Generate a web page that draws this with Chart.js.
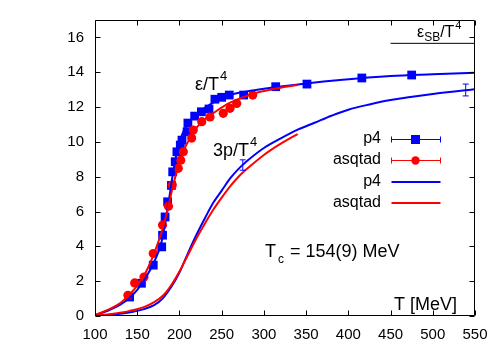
<!DOCTYPE html>
<html>
<head>
<meta charset="utf-8">
<script src="https://cdn.jsdelivr.net/npm/chart.js@4.4.1/dist/chart.umd.min.js"></script>
<style>
html,body{margin:0;padding:0;background:#fff;}
#wrap{width:500px;height:350px;}
</style>
</head>
<body>
<div id="wrap"><canvas id="c" width="500" height="350"></canvas></div>
<script>
// ---- data ----
const xTicks = [100,150,200,250,300,350,400,450,500,550];
const yTicks = [0,2,4,6,8,10,12,14,16];

// p4 data points (epsilon/T^4)
const p4PtsT = [141,155,169,179,180,183,186,190.5,192,195,197,201,203,209,210,218,226,235,242,250,259,276,314,351,416,475];
const p4PtsE = [1.09,1.88,2.92,3.97,4.64,5.69,6.56,7.5,8.28,8.86,9.43,9.82,10.1,10.58,11.08,11.48,11.73,11.89,12.45,12.56,12.69,12.69,13.17,13.32,13.67,13.84];

// asqtad data points (epsilon/T^4)
const asqPtsT = [139,147,158,169,180,187,191.5,198.6,201.5,204.6,214.5,216.4,226.4,236.2,251.9,259.9,267.8,286.8];
const asqPtsE = [1.19,1.9,2.24,3.59,5.22,6.31,7.52,8.48,8.95,9.43,10.22,10.68,11.16,11.43,11.64,11.93,12.21,12.69];

// p4 curves
const p4CurveET = [100,115,130,140,150,160,170,178,183,188,193,198,203,210,220,230,245,260,280,300,350,390,450,500,550];
const p4CurveE  = [0.05,0.3,0.65,1.0,1.5,2.2,3.1,4.1,5.3,6.8,8.4,9.6,10.4,11.05,11.6,11.95,12.4,12.7,12.9,13.05,13.35,13.55,13.78,13.88,13.97];
const p4CurvePT = [100,120,140,157,170,180,190,200,210,220,230,240,250,260,270,280,300,320,340,360,380,400,425,450,500,550];
const p4CurveP  = [0.0,0.08,0.2,0.38,0.62,1.0,1.65,2.5,3.6,4.65,5.6,6.5,7.2,7.9,8.45,8.9,9.65,10.2,10.7,11.1,11.5,11.85,12.15,12.4,12.75,13.02];

// asqtad curves
const asqCurveET = [100,115,130,140,150,160,170,180,186,192,198,204,210,220,230,240,260,290,310,340];
const asqCurveE  = [0.05,0.35,0.75,1.2,1.75,2.5,3.6,5.0,6.1,7.4,8.5,9.4,10.0,10.8,11.3,11.65,12.25,12.8,13.02,13.27];
const asqCurvePT = [100,120,140,160,180,190,200,210,220,230,240,250,260,270,280,300,320,340];
const asqCurveP  = [0.02,0.12,0.28,0.55,1.15,1.75,2.55,3.5,4.45,5.3,6.1,6.8,7.45,8.0,8.45,9.25,9.9,10.45];

// systematic error bars on 3p/T^4 (p4)
const errT   = [275, 539];
const errVal = [8.67, 12.98];
const errPM  = [0.3, 0.34];

// Stefan-Boltzmann limit
const sbT = [450, 550];
const sbVal = 15.66;

const BLUE = '#0000ff', RED = '#ff0000';
const FONT = '"Liberation Sans", Arial, Helvetica, sans-serif';

function pts(xs, ys){ return xs.map((v,i)=>({x:v, y:ys[i]})); }

const datasets = [
  {label:'p4 pts', data:pts(p4PtsT,p4PtsE), showLine:false, pointStyle:'rect', pointRadius:6.2,
   backgroundColor:BLUE, borderColor:BLUE, pointBorderWidth:0, order:4},
  {label:'asqtad pts', data:pts(asqPtsT,asqPtsE), showLine:false, pointStyle:'circle', pointRadius:4.6,
   backgroundColor:RED, borderColor:RED, pointBorderWidth:0, order:3},
  {label:'p4 e', data:pts(p4CurveET,p4CurveE), borderColor:BLUE, borderWidth:2, pointRadius:0, cubicInterpolationMode:'monotone', order:2},
  {label:'p4 p', data:pts(p4CurvePT,p4CurveP), borderColor:BLUE, borderWidth:2, pointRadius:0, cubicInterpolationMode:'monotone', order:2},
  {label:'asq e', data:pts(asqCurveET,asqCurveE), borderColor:RED, borderWidth:2, pointRadius:0, cubicInterpolationMode:'monotone', order:1},
  {label:'asq p', data:pts(asqCurvePT,asqCurveP), borderColor:RED, borderWidth:2, pointRadius:0, cubicInterpolationMode:'monotone', order:1},
  {label:'SB', data:pts(sbT,[sbVal,sbVal]), borderColor:'#000', borderWidth:1, pointRadius:0, order:5},
];
errT.forEach((t,i)=>{
  datasets.push({label:'err'+i, data:[{x:t,y:errVal[i]-errPM[i]},{x:t,y:errVal[i]+errPM[i]}],
    borderColor:BLUE, borderWidth:1, pointStyle:'line', pointRadius:3, pointBorderWidth:1,
    pointBorderColor:BLUE, backgroundColor:BLUE, order:0});
});

const deco = {
  id:'deco',
  afterDraw(chart){
    const {ctx, chartArea:a, scales:{x, y}} = chart;
    ctx.save();
    ctx.strokeStyle = '#000'; ctx.lineWidth = 1;
    const L = Math.round(a.left)+0.5, R = Math.round(a.right)-0.5, T = Math.round(a.top)+0.5, B = Math.round(a.bottom)-0.5;
    ctx.beginPath();
    ctx.rect(L, T, R-L, B-T);
    xTicks.forEach(v=>{
      const px = Math.round(x.getPixelForValue(v))+0.5;
      ctx.moveTo(px,B); ctx.lineTo(px,B-5);
      ctx.moveTo(px,T); ctx.lineTo(px,T+5);
    });
    yTicks.forEach(v=>{
      const py = Math.round(y.getPixelForValue(v))+0.5;
      ctx.moveTo(L,py); ctx.lineTo(L+5,py);
      ctx.moveTo(R,py); ctx.lineTo(R-5,py);
    });
    ctx.stroke();

    ctx.fillStyle = '#000';
    ctx.textBaseline = 'alphabetic';
    ctx.textAlign = 'left';
    // eps/T^4
    ctx.font = '18px ' + FONT;
    ctx.fillText('ε/T', 195, 90);
    let w = ctx.measureText('ε/T').width;
    ctx.font = '13px ' + FONT;
    ctx.fillText('4', 195 + w + 1, 80);
    // 3p/T^4
    ctx.font = '18px ' + FONT;
    ctx.fillText('3p/T', 213, 156);
    w = ctx.measureText('3p/T').width;
    ctx.font = '13px ' + FONT;
    ctx.fillText('4', 213 + w + 1, 146);
    // eps_SB/T^4
    ctx.font = '16px ' + FONT;
    ctx.fillText('ε', 417, 37);
    w = ctx.measureText('ε').width;
    ctx.font = '12px ' + FONT;
    ctx.fillText('SB', 417 + w, 41);
    let w2 = ctx.measureText('SB').width;
    ctx.font = '16px ' + FONT;
    ctx.fillText('/T', 417 + w + w2, 37);
    let w3 = ctx.measureText('/T').width;
    ctx.font = '11px ' + FONT;
    ctx.fillText('4', 417 + w + w2 + w3 + 1, 29);
    // Tc
    ctx.font = '18px ' + FONT;
    ctx.fillText('T', 265, 257);
    ctx.font = '12px ' + FONT;
    ctx.fillText('c', 278, 263);
    ctx.font = '18px ' + FONT;
    ctx.fillText('= 154(9) MeV', 290, 257);
    // axis label
    ctx.textAlign = 'right';
    ctx.fillText('T [MeV]', 457, 310);

    // legend
    const rows = [
      {t:'p4', c:BLUE, kind:'rect'},
      {t:'asqtad', c:RED, kind:'circle'},
      {t:'p4', c:BLUE, kind:'line'},
      {t:'asqtad', c:RED, kind:'line'},
    ];
    const rowY = [139, 160, 181.5, 203];
    ctx.font = '16px ' + FONT;
    ctx.textBaseline = 'middle';
    rows.forEach((r,i)=>{
      const yy = rowY[i];
      ctx.fillStyle = '#000';
      ctx.fillText(r.t, 381, yy);
      ctx.strokeStyle = r.c; ctx.fillStyle = r.c;
      const x0 = 391.5, x1 = 440.5, ym = Math.round(yy)+0.5;
      ctx.beginPath();
      if (r.kind === 'line') {
        ctx.lineWidth = 2;
        ctx.moveTo(x0, Math.round(yy)); ctx.lineTo(x1, Math.round(yy));
        ctx.stroke();
      } else {
        ctx.lineWidth = 1;
        ctx.moveTo(x0, ym); ctx.lineTo(x1, ym);
        ctx.moveTo(x0, ym-3); ctx.lineTo(x0, ym+3);
        ctx.moveTo(x1, ym-3); ctx.lineTo(x1, ym+3);
        ctx.stroke();
        ctx.beginPath();
        if (r.kind === 'rect') ctx.rect(411, ym-4.5, 9, 9);
        else ctx.arc(415.5, ym, 4.2, 0, Math.PI*2);
        ctx.fill();
      }
    });
    ctx.restore();
  }
};

new Chart(document.getElementById('c'), {
  type:'line',
  data:{datasets},
  options:{
    responsive:false, animation:false, devicePixelRatio:1,
    layout:{padding:{top:20, right:25, left:0, bottom:0}},
    plugins:{legend:{display:false}, tooltip:{enabled:false}},
    scales:{
      x:{type:'linear', min:100, max:550,
         afterBuildTicks:s=>{ s.ticks = xTicks.map(v=>({value:v})); },
         afterFit:s=>{ s.height = 34; },
         grid:{display:false, drawTicks:false}, border:{display:false},
         ticks:{padding:10, color:'#000', font:{family:FONT, size:15}, maxRotation:0, autoSkip:false}},
      y:{type:'linear', min:0, max:17,
         afterBuildTicks:s=>{ s.ticks = yTicks.map(v=>({value:v})); },
         afterFit:s=>{ s.width = 95; },
         grid:{display:false, drawTicks:false}, border:{display:false},
         ticks:{padding:11, color:'#000', font:{family:FONT, size:15}, autoSkip:false}}
    }
  },
  plugins:[deco]
});
</script>
</body>
</html>
